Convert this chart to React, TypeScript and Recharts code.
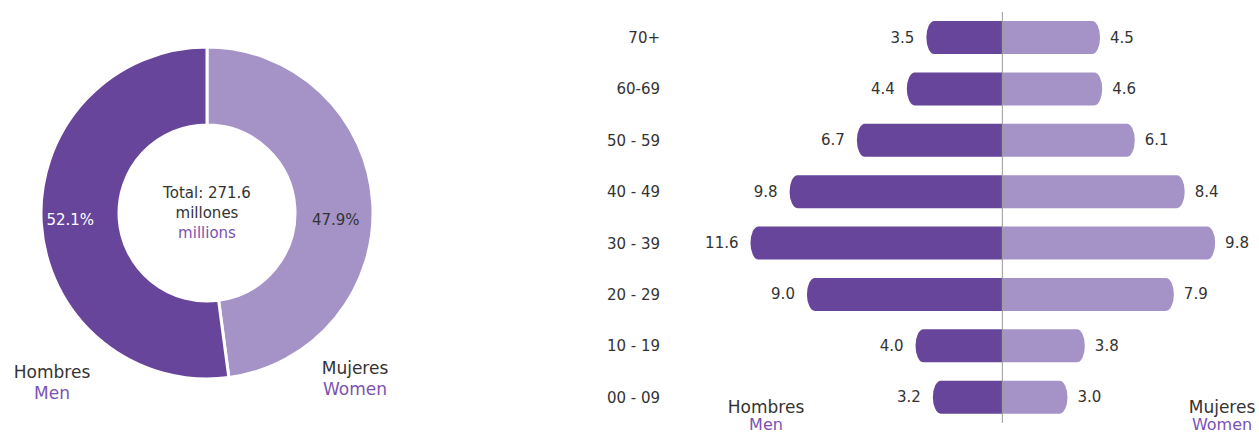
import React from "react";
import { PieChart, Pie, Cell, BarChart, Bar, XAxis, YAxis, ReferenceLine, LabelList } from "recharts";

const FONT = "'DejaVu Sans', sans-serif";
const MEN_COLOR = "#67459b";
const WOMEN_COLOR = "#a593c7";
const ACCENT = "#7b52b3";
const TEXT = "#333333";

const sexNames = ["Mujeres", "Hombres"];
const sexShares = [47.9, 52.1];

const ages = ["70+", "60-69", "50 - 59", "40 - 49", "30 - 39", "20 - 29", "10 - 19", "00 - 09"];
const menValues = [3.5, 4.4, 6.7, 9.8, 11.6, 9.0, 4.0, 3.2];
const womenValues = [4.5, 4.6, 6.1, 8.4, 9.8, 7.9, 3.8, 3.0];

const pieData = sexNames.map((name, i) => ({ name, value: sexShares[i] }));
const pyramidData = ages.map((age, i) => ({ age, men: -menValues[i], women: womenValues[i] }));

const RAD = Math.PI / 180;

const renderPieLabel = (props: any) => {
  const { cx, cy, midAngle, index, value } = props;
  const r = index === 1 ? 137 : 129;
  const x = cx + r * Math.cos(-midAngle * RAD);
  const y = cy + 7;
  return (
    <text
      x={x}
      y={y}
      textAnchor="middle"
      dominantBaseline="central"
      fill={index === 1 ? "#ffffff" : TEXT}
      fontSize={15}
      fontFamily={FONT}
    >
      {`${Number(value).toFixed(1)}%`}
    </text>
  );
};

const MenShape = (props: any) => {
  const { x, y, width, height, fill } = props;
  const left = Math.min(x, x + width);
  const right = Math.max(x, x + width);
  const e = Math.min(8, right - left);
  const d = `M${right},${y} L${left + e},${y} A${e},${height / 2} 0 0 0 ${left + e},${y + height} L${right},${y + height} Z`;
  return <path d={d} fill={fill} />;
};

const WomenShape = (props: any) => {
  const { x, y, width, height, fill } = props;
  const left = Math.min(x, x + width);
  const right = Math.max(x, x + width);
  const e = Math.min(8, right - left);
  const d = `M${left},${y} L${right - e},${y} A${e},${height / 2} 0 0 1 ${right - e},${y + height} L${left},${y + height} Z`;
  return <path d={d} fill={fill} />;
};

const pickValue = (v: any) => {
  if (Array.isArray(v)) {
    return Math.abs(v[0]) > Math.abs(v[1]) ? v[0] : v[1];
  }
  return v;
};

const MenLabel = (props: any) => {
  const { x, y, width, height, value } = props;
  const left = Math.min(x, x + width);
  return (
    <text x={left - 12} y={y + height / 2} textAnchor="end" dominantBaseline="central" fill={TEXT} fontSize={15} fontFamily={FONT}>
      {Math.abs(Number(pickValue(value))).toFixed(1)}
    </text>
  );
};

const WomenLabel = (props: any) => {
  const { x, y, width, height, value } = props;
  const right = Math.max(x, x + width);
  return (
    <text x={right + 10} y={y + height / 2} textAnchor="start" dominantBaseline="central" fill={TEXT} fontSize={15} fontFamily={FONT}>
      {Math.abs(Number(pickValue(value))).toFixed(1)}
    </text>
  );
};

const Note = ({ x, y, color, size, children }: any) => (
  <div
    style={{
      position: "absolute",
      left: x,
      top: y,
      transform: "translate(-50%, -50%)",
      whiteSpace: "nowrap",
      color,
      fontSize: size,
      fontFamily: FONT,
      lineHeight: 1,
    }}
  >
    {children}
  </div>
);

export default function App() {
  return (
    <div style={{ position: "absolute", left: 0, top: 0, width: 1259, height: 435, background: "#fff", overflow: "hidden" }}>
      <div style={{ position: "absolute", left: 0, top: 0 }}>
        <PieChart width={420} height={435} margin={{ top: 0, right: 0, bottom: 0, left: 0 }}>
          <Pie
            data={pieData}
            dataKey="value"
            nameKey="name"
            cx={207}
            cy={213}
            innerRadius={88}
            outerRadius={166}
            startAngle={90}
            endAngle={-270}
            stroke="#ffffff"
            strokeWidth={3}
            label={renderPieLabel}
            labelLine={false}
            isAnimationActive={false}
          >
            {pieData.map((d, i) => (
              <Cell key={d.name} fill={i === 0 ? WOMEN_COLOR : MEN_COLOR} />
            ))}
          </Pie>
        </PieChart>
      </div>

      <Note x={207} y={193} color={TEXT} size={15}>Total: 271.6</Note>
      <Note x={207} y={213} color={TEXT} size={15}>millones</Note>
      <Note x={207} y={233} color={ACCENT} size={15}>millions</Note>

      <Note x={52} y={372} color={TEXT} size={17}>Hombres</Note>
      <Note x={52} y={393} color={ACCENT} size={17}>Men</Note>
      <Note x={355} y={368} color={TEXT} size={17}>Mujeres</Note>
      <Note x={355} y={389} color={ACCENT} size={17}>Women</Note>

      <div style={{ position: "absolute", left: 580, top: 0 }}>
        <BarChart
          width={679}
          height={435}
          data={pyramidData}
          layout="vertical"
          stackOffset="sign"
          margin={{ top: 12, right: 20, bottom: 12, left: 0 }}
        >
          <XAxis type="number" domain={[-15.4, 10.9]} allowDataOverflow hide />
          <YAxis
            type="category"
            dataKey="age"
            width={88}
            axisLine={false}
            tickLine={false}
            tick={{ fill: TEXT, fontSize: 15, fontFamily: FONT }}
          />
          <Bar dataKey="men" stackId="s" fill={MEN_COLOR} barSize={33} shape={<MenShape />} isAnimationActive={false}>
            <LabelList dataKey="men" content={<MenLabel />} />
          </Bar>
          <Bar dataKey="women" stackId="s" fill={WOMEN_COLOR} barSize={33} shape={<WomenShape />} isAnimationActive={false}>
            <LabelList dataKey="women" content={<WomenLabel />} />
          </Bar>
          <ReferenceLine x={0} stroke="#9a9a9a" strokeWidth={1} />
        </BarChart>
      </div>

      <Note x={766} y={407} color={TEXT} size={17}>Hombres</Note>
      <Note x={766} y={425} color={ACCENT} size={16}>Men</Note>
      <Note x={1222} y={407} color={TEXT} size={17}>Mujeres</Note>
      <Note x={1222} y={425} color={ACCENT} size={16}>Women</Note>
    </div>
  );
}
